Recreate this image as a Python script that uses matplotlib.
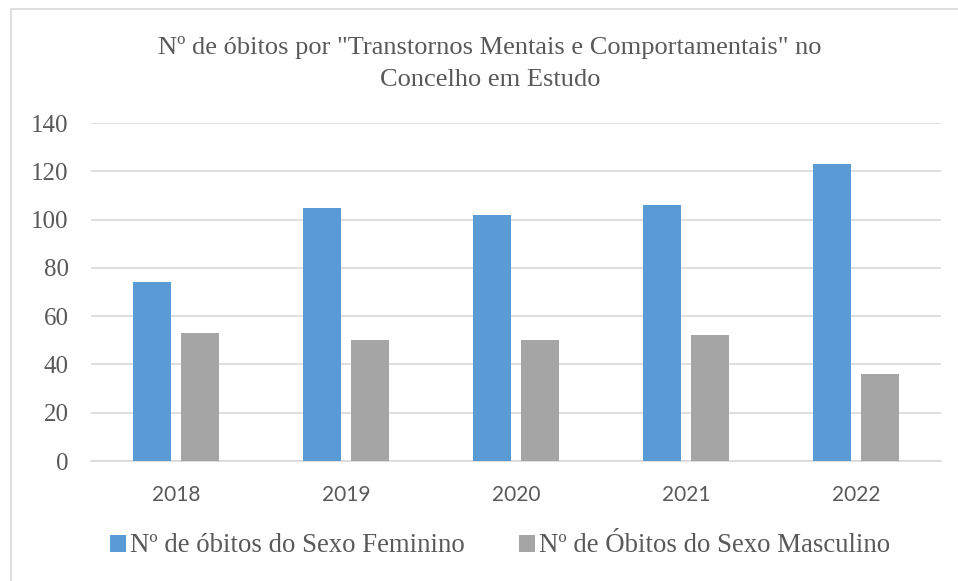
import numpy as np
import matplotlib.pyplot as plt
from matplotlib.patches import Rectangle

anos = ['2018', '2019', '2020', '2021', '2022']
feminino = [74, 105, 102, 106, 123]
masculino = [53, 50, 50, 52, 36]

titulo = 'Nº de óbitos por "Transtornos Mentais e Comportamentais" no\nConcelho em Estudo'
rotulo_fem = 'Nº de óbitos do Sexo Feminino'
rotulo_masc = 'Nº de Óbitos do Sexo Masculino'

azul = '#5B9BD5'
cinza = '#A5A5A5'
texto = '#595959'
grade = '#D9D9D9'
serif = ['Liberation Serif', 'DejaVu Serif']


def main():
    fig = plt.figure(figsize=(9.58, 5.81), dpi=100)
    fig.patches.append(Rectangle((11 / 958, -0.1), 1.2, (581 - 9) / 581 + 0.1,
                                 transform=fig.transFigure, fill=False,
                                 edgecolor='#D9D9D9', linewidth=1.2))
    ax = fig.add_axes([91 / 958, 1 - 461 / 581, 850 / 958, 338 / 581])

    x = np.arange(len(anos))
    w = 0.224
    off = 0.142
    ax.bar(x - off, feminino, w, color=azul, label=rotulo_fem, zorder=3)
    ax.bar(x + off, masculino, w, color=cinza, label=rotulo_masc, zorder=3)

    ax.set_xlim(-0.5, len(anos) - 0.5)
    ax.set_ylim(0, 140)
    ax.set_yticks(range(0, 141, 20))
    ax.yaxis.grid(True, color=grade, linewidth=1.2, zorder=0)
    ax.set_axisbelow(True)
    for s in ['top', 'right', 'left']:
        ax.spines[s].set_visible(False)
    ax.spines['bottom'].set_color(grade)
    ax.spines['bottom'].set_linewidth(1.2)
    ax.tick_params(length=0)
    ax.set_xticks(x)
    ax.set_xticklabels(anos, fontfamily='Lato', fontsize=15, color=texto)
    ax.tick_params(axis='x', pad=17)
    ax.tick_params(axis='y', pad=16)
    for t in ax.get_yticklabels():
        t.set_fontfamily(serif)
        t.set_fontsize(18)
        t.set_color(texto)

    fig.text(490 / 958, 1 - 63.5 / 581, titulo, ha='center', va='center',
             fontfamily=serif, fontsize=19, color=texto, linespacing=1.55)

    fig.legend(loc='center', bbox_to_anchor=(500 / 958, 1 - 546 / 581),
               ncol=2, frameon=False, handlelength=0.6, handleheight=0.6,
               handletextpad=0.15, columnspacing=2.0,
               prop={'family': serif, 'size': 19.3}, labelcolor=texto)

    fig.savefig('out.png', dpi=100)
    plt.close(fig)


if __name__ == '__main__':
    main()
